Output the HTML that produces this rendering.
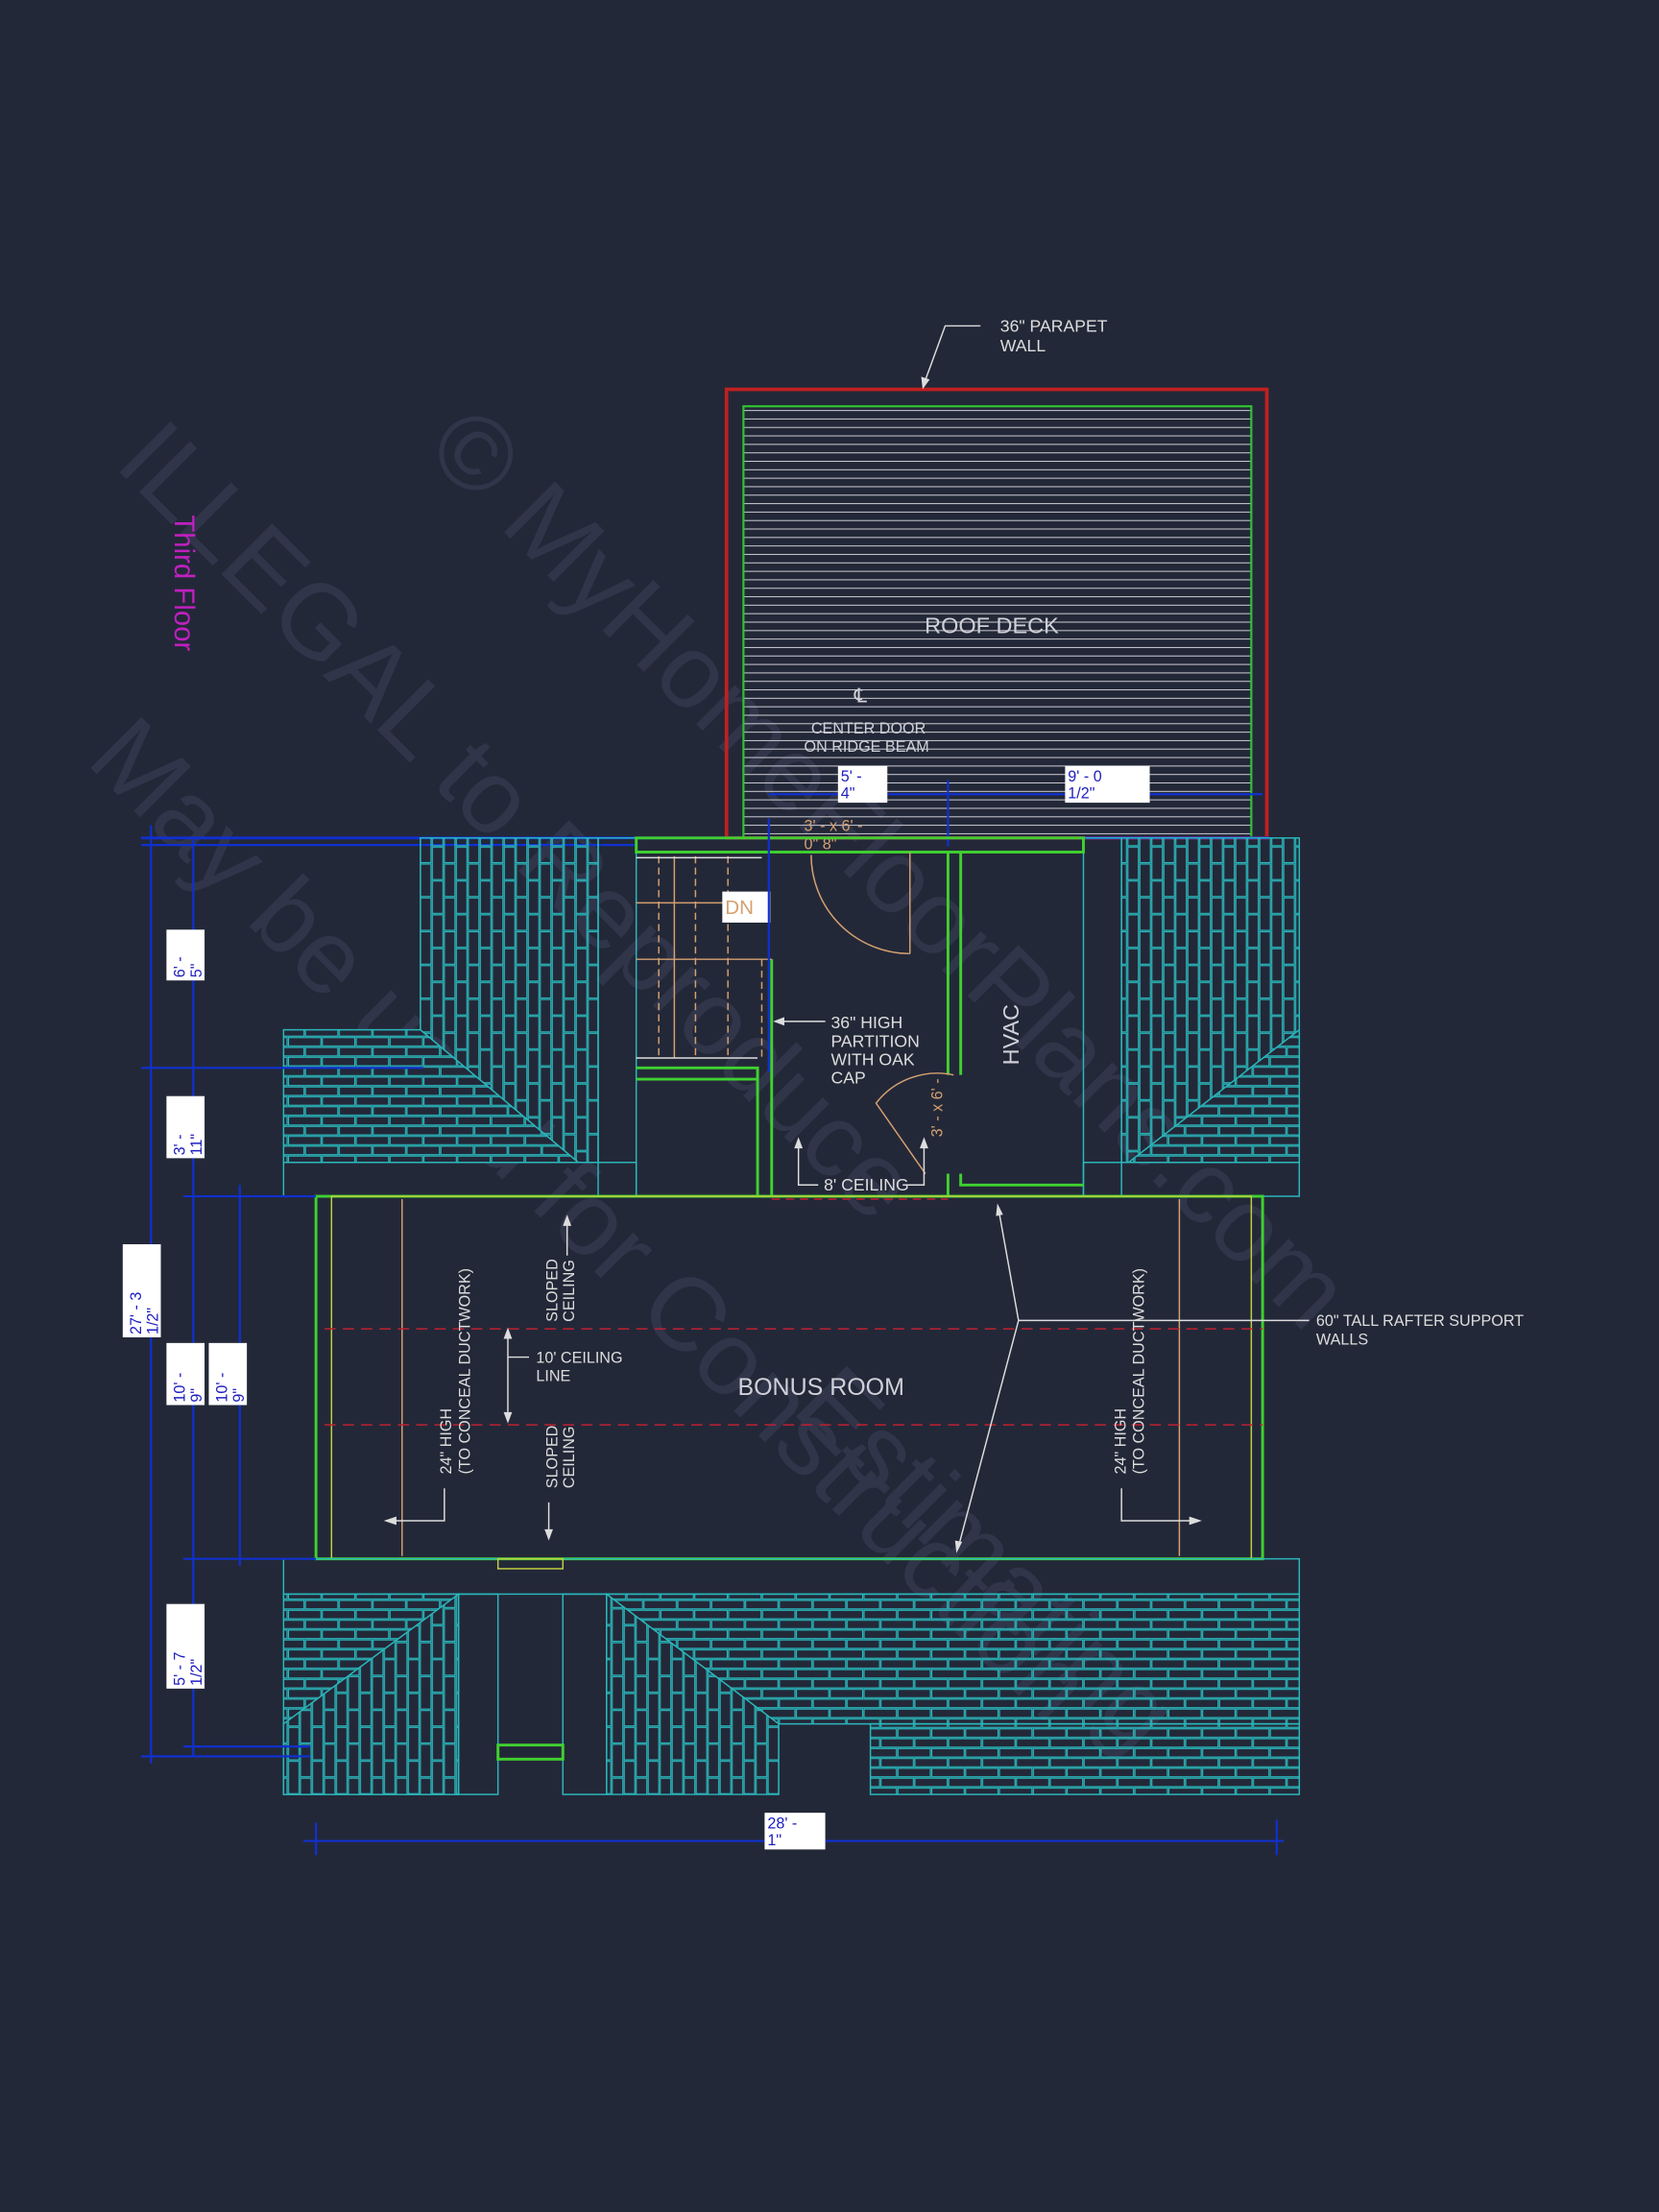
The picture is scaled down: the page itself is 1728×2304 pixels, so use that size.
<!DOCTYPE html>
<html><head><meta charset="utf-8"><style>
html,body{margin:0;padding:0;background:#232838;}
svg{display:block}
text{font-family:"Liberation Sans",sans-serif;}
</style></head><body>
<svg width="1728" height="2304" viewBox="0 0 1176 1568" xmlns="http://www.w3.org/2000/svg">
<defs>
<pattern id="vb" width="17" height="24" patternUnits="userSpaceOnUse">
<rect x="0.5" y="0.5" width="7.5" height="23" fill="none" stroke="#2ab8bc" stroke-width="0.8"/>
<rect x="9" y="-11.5" width="7.5" height="23" fill="none" stroke="#2ab8bc" stroke-width="0.8"/>
<rect x="9" y="12.5" width="7.5" height="23" fill="none" stroke="#2ab8bc" stroke-width="0.8"/>
</pattern>
<pattern id="hb" width="24" height="14" patternUnits="userSpaceOnUse">
<rect x="0.5" y="0.5" width="23" height="6" fill="none" stroke="#2ab8bc" stroke-width="0.8"/>
<rect x="-11.5" y="7.5" width="23" height="6" fill="none" stroke="#2ab8bc" stroke-width="0.8"/>
<rect x="12.5" y="7.5" width="23" height="6" fill="none" stroke="#2ab8bc" stroke-width="0.8"/>
</pattern>
<pattern id="deck" width="10" height="6" patternUnits="userSpaceOnUse">
<line x1="0" y1="3" x2="10" y2="3" stroke="#c8c8d0" stroke-width="0.7"/>
</pattern>
</defs>
<rect width="1176" height="1568" fill="#232838"/>

<!-- watermark -->
<g fill="#30354a" font-family="Liberation Serif,serif" font-size="74">
<text transform="translate(80,330) rotate(45)">ILLEGAL to Reproduce</text>
<text transform="translate(300,320) rotate(45)">© MyHomeFloorPlans.com</text>
<text transform="translate(60,540) rotate(45)">May be used for Construction</text>
<text transform="translate(560,1000) rotate(45)">Estimating</text>
</g>

<text transform="translate(124,365) rotate(90)" fill="#c020c0" font-size="20">Third Floor</text>

<!-- roof deck -->
<rect x="515" y="276" width="383" height="318" fill="none" stroke="#c02020" stroke-width="2.5"/>
<rect x="527" y="288" width="360" height="306" fill="url(#deck)" stroke="#30c030" stroke-width="1.5"/>
<text x="703" y="449" fill="#d0d0d8" font-size="16" text-anchor="middle">ROOF DECK</text>
<text x="610" y="498" fill="#d0d0d8" font-size="14" text-anchor="middle">℄</text>
<text x="575" y="520" fill="#d0d0d8" font-size="11">CENTER DOOR</text>
<text x="570" y="533" fill="#d0d0d8" font-size="11">ON RIDGE BEAM</text>
<path d="M695 231 H670 L655 272" fill="none" stroke="#ddd" stroke-width="1"/>
<polygon points="654,276 653,267 659,269" fill="#ddd"/>
<text x="709" y="235" fill="#ddd" font-size="12">36" PARAPET</text>
<text x="709" y="249" fill="#ddd" font-size="12">WALL</text>

<!-- upper dims -->
<line x1="100" y1="594" x2="900" y2="594" stroke="#1030d0" stroke-width="2"/>
<line x1="100" y1="599" x2="450" y2="599" stroke="#1030d0" stroke-width="1.5"/>
<line x1="545" y1="563" x2="895" y2="563" stroke="#1030d0" stroke-width="1.5"/>
<line x1="672" y1="553" x2="672" y2="600" stroke="#1030d0" stroke-width="1.5"/>
<rect x="594" y="543" width="35" height="26" fill="#fff"/>
<text x="596" y="554" fill="#2020c0" font-size="11">5' -</text><text x="596" y="566" fill="#2020c0" font-size="11">4"</text>
<rect x="755" y="543" width="60" height="26" fill="#fff"/>
<text x="757" y="554" fill="#2020c0" font-size="11">9' - 0</text><text x="757" y="566" fill="#2020c0" font-size="11">1/2"</text>
<text x="570" y="589" fill="#d4a070" font-size="11">3' - x 6' -</text>
<text x="570" y="602" fill="#d4a070" font-size="11">0"    8"</text>

<!-- upper-left brick -->
<rect x="298" y="594" width="126" height="230" fill="url(#vb)" stroke="#2ab8bc"/>
<polygon points="201,730 298,730 410,824 201,824" fill="#232838"/>
<polygon points="201,730 298,730 410,824 201,824" fill="url(#hb)" stroke="#2ab8bc"/>
<rect x="424" y="594" width="27" height="254" fill="none" stroke="#2ab8bc"/>
<rect x="201" y="824" width="250" height="24" fill="none" stroke="#2ab8bc"/>
<!-- upper-right brick -->
<rect x="795" y="594" width="126" height="230" fill="url(#vb)" stroke="#2ab8bc"/>
<polygon points="921,730 921,824 800,824" fill="#232838"/>
<polygon points="921,730 921,824 800,824" fill="url(#hb)" stroke="#2ab8bc"/>
<rect x="768" y="594" width="27" height="254" fill="none" stroke="#2ab8bc"/>
<rect x="768" y="824" width="153" height="24" fill="none" stroke="#2ab8bc"/>

<!-- stairs / walls -->
<g stroke="#40d030" stroke-width="2" fill="none">
<rect x="451" y="594" width="317" height="10"/>
<path d="M451 757 H537 V848"/><path d="M451 765 H537"/>
<path d="M547 680 V848 H451"/>
<path d="M672 604 V762 M681 604 V762"/>
<path d="M672 832 V848 H768 M681 832 V840 H768"/>
</g>
<g stroke="#d4a070" stroke-width="1" fill="none">
<line x1="451" y1="640" x2="540" y2="640"/><line x1="451" y1="680" x2="547" y2="680"/>
<line x1="467" y1="607" x2="467" y2="750" stroke-dasharray="5,3"/><line x1="478" y1="607" x2="478" y2="750"/>
<line x1="493" y1="607" x2="493" y2="750" stroke-dasharray="5,3"/><line x1="516" y1="607" x2="516" y2="750" stroke-dasharray="5,3"/>
<line x1="540" y1="680" x2="540" y2="750" stroke-dasharray="5,3"/>
<path d="M575 606 A70 70 0 0 0 645 676"/><line x1="645" y1="604" x2="645" y2="676"/>
<path d="M676 762 A55 55 0 0 0 621 782 L656 832"/>
</g>
<line x1="451" y1="608" x2="540" y2="608" stroke="#ddd"/><line x1="451" y1="750" x2="537" y2="750" stroke="#ddd"/>
<rect x="512" y="632" width="34" height="22" fill="#fff"/>
<text x="514" y="648" fill="#d4a070" font-size="14">DN</text>
<line x1="545" y1="580" x2="545" y2="760" stroke="#1030d0" stroke-width="1.5"/>
<text transform="translate(722,755) rotate(-90)" fill="#d0d0d8" font-size="16">HVAC</text>
<text transform="translate(668,806) rotate(-90)" fill="#d4a070" font-size="11">3' - x 6' -</text>
<path d="M585 724 H550" stroke="#ddd"/><polygon points="548,724 556,721 556,727" fill="#ddd"/>
<g fill="#ddd" font-size="12"><text x="589" y="729">36" HIGH</text><text x="589" y="742">PARTITION</text><text x="589" y="755">WITH OAK</text><text x="589" y="768">CAP</text>
<text x="584" y="844">8' CEILING</text></g>
<path d="M566 810 V840 H580 M655 810 V840 H640" stroke="#ddd" fill="none"/>
<polygon points="566,806 563,814 569,814" fill="#ddd"/><polygon points="655,806 652,814 658,814" fill="#ddd"/>

<!-- bonus room -->
<rect x="224" y="848" width="671" height="257" fill="none" stroke="#40d030" stroke-width="2"/>
<rect x="235" y="848" width="652" height="257" fill="none" stroke="#c0d040" stroke-width="1"/>
<line x1="285" y1="850" x2="285" y2="1103" stroke="#d4a070"/>
<line x1="836" y1="850" x2="836" y2="1103" stroke="#d4a070"/>
<line x1="230" y1="942" x2="895" y2="942" stroke="#c02030" stroke-dasharray="8,5"/>
<line x1="230" y1="1010" x2="895" y2="1010" stroke="#c02030" stroke-dasharray="8,5"/>
<line x1="547" y1="850" x2="672" y2="850" stroke="#c02030" stroke-dasharray="6,4"/>
<text x="582" y="989" fill="#d0d0d8" font-size="17" text-anchor="middle">BONUS ROOM</text>
<g fill="#ddd" font-size="11">
<text transform="translate(320,1045) rotate(-90)">24" HIGH</text>
<text transform="translate(333,1045) rotate(-90)">(TO CONCEAL DUCTWORK)</text>
<text transform="translate(798,1045) rotate(-90)">24" HIGH</text>
<text transform="translate(811,1045) rotate(-90)">(TO CONCEAL DUCTWORK)</text>
<text transform="translate(395,937) rotate(-90)">SLOPED</text><text transform="translate(407,937) rotate(-90)">CEILING</text>
<text transform="translate(395,1055) rotate(-90)">SLOPED</text><text transform="translate(407,1055) rotate(-90)">CEILING</text>
<text x="380" y="966">10' CEILING</text><text x="380" y="979">LINE</text>
<text x="933" y="940">60" TALL RAFTER SUPPORT</text><text x="933" y="953">WALLS</text>
</g>
<g stroke="#ddd" fill="none">
<path d="M315 1055 V1078 H276"/><path d="M795 1055 V1078 H848"/>
<path d="M402 890 V865"/><path d="M389 1065 V1088"/>
<path d="M360 945 V1005 M360 962 H375"/>
<path d="M928 936 H722 L708 858 M722 936 L679 1098"/>
</g>
<g fill="#ddd">
<polygon points="272,1078 281,1075 281,1081"/><polygon points="852,1078 843,1075 843,1081"/>
<polygon points="402,861 399,869 405,869"/><polygon points="389,1092 386,1084 392,1084"/>
<polygon points="360,941 357,949 363,949"/><polygon points="360,1009 357,1001 363,1001"/>
<polygon points="707,853 706,862 711,861"/><polygon points="678,1101 677,1092 682,1093"/>
</g>

<!-- bottom brick -->
<rect x="201" y="1105" width="720" height="25" fill="none" stroke="#2ab8bc"/>
<rect x="353" y="1105" width="46" height="7" fill="none" stroke="#c0d040"/>
<rect x="201" y="1130" width="124" height="142" fill="url(#hb)" stroke="#2ab8bc"/>
<polygon points="201,1222 325,1130 325,1272 201,1272" fill="#232838"/>
<polygon points="201,1222 325,1130 325,1272 201,1272" fill="url(#vb)" stroke="#2ab8bc"/>
<rect x="325" y="1130" width="28" height="142" fill="none" stroke="#2ab8bc"/>
<rect x="399" y="1130" width="31" height="142" fill="none" stroke="#2ab8bc"/>
<rect x="353" y="1237" width="46" height="10" fill="none" stroke="#40d030" stroke-width="2"/>
<rect x="430" y="1130" width="491" height="92" fill="url(#hb)" stroke="#2ab8bc"/>
<rect x="617" y="1222" width="304" height="50" fill="url(#hb)" stroke="#2ab8bc"/>
<polygon points="430,1130 552,1222 552,1272 430,1272" fill="#232838"/>
<polygon points="430,1130 552,1222 552,1272 430,1272" fill="url(#vb)" stroke="#2ab8bc"/>

<!-- left dims -->
<g stroke="#1030d0" stroke-width="1.5">
<line x1="107" y1="585" x2="107" y2="1250"/>
<line x1="137" y1="594" x2="137" y2="1245"/>
<line x1="170" y1="840" x2="170" y2="1110"/>
<line x1="100" y1="757" x2="300" y2="757"/>
<line x1="130" y1="848" x2="224" y2="848"/>
<line x1="130" y1="1105" x2="224" y2="1105"/>
<line x1="100" y1="1245" x2="220" y2="1245"/>
<line x1="130" y1="1238" x2="220" y2="1238"/>
<line x1="224" y1="1292" x2="224" y2="1315"/>
<line x1="905" y1="1290" x2="905" y2="1315"/>
<line x1="215" y1="1305" x2="910" y2="1305"/>
</g>
<g fill="#fff">
<rect x="118" y="659" width="27" height="36"/><rect x="118" y="777" width="27" height="44"/>
<rect x="87" y="882" width="27" height="66"/><rect x="118" y="952" width="27" height="44"/>
<rect x="148" y="952" width="27" height="44"/><rect x="118" y="1137" width="27" height="60"/>
<rect x="542" y="1285" width="43" height="26"/>
</g>
<g fill="#2020c0" font-size="11">
<text transform="translate(131,693) rotate(-90)">6' -</text><text transform="translate(143,693) rotate(-90)">5"</text>
<text transform="translate(131,819) rotate(-90)">3' -</text><text transform="translate(143,819) rotate(-90)">11"</text>
<text transform="translate(100,946) rotate(-90)">27' - 3</text><text transform="translate(112,946) rotate(-90)">1/2"</text>
<text transform="translate(131,994) rotate(-90)">10' -</text><text transform="translate(143,994) rotate(-90)">9"</text>
<text transform="translate(161,994) rotate(-90)">10' -</text><text transform="translate(173,994) rotate(-90)">9"</text>
<text transform="translate(131,1195) rotate(-90)">5' - 7</text><text transform="translate(143,1195) rotate(-90)">1/2"</text>
<text x="544" y="1296">28' -</text><text x="544" y="1308">1"</text>
</g>
</svg>
</body></html>
